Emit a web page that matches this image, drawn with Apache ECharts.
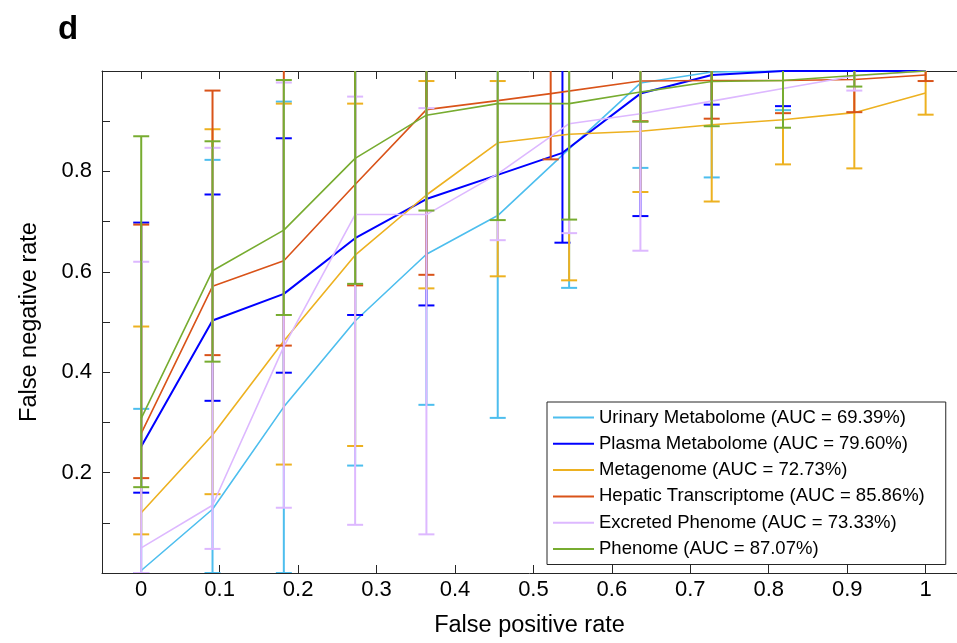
<!DOCTYPE html>
<html>
<head>
<meta charset="utf-8">
<script src="https://cdn.jsdelivr.net/npm/echarts@6/dist/echarts.min.js"></script>
<style>
html,body{margin:0;padding:0;background:#fff;}
#chart{width:957px;height:643px;}
</style>
</head>
<body>
<div id="chart"></div>
<script>
// ---------- data ----------
const seriesNames = [
  'Urinary Metabolome (AUC = 69.39%)',
  'Plasma Metabolome (AUC = 79.60%)',
  'Metagenome (AUC = 72.73%)',
  'Hepatic Transcriptome (AUC = 85.86%)',
  'Excreted Phenome (AUC = 73.33%)',
  'Phenome (AUC = 87.07%)'
];
const seriesColors = ['#4DBEEE', '#0000FF', '#EDB120', '#D95319', '#DDB8FF', '#77AC30'];

const xTicks = [0, 0.1, 0.2, 0.3, 0.4, 0.5, 0.6, 0.7, 0.8, 0.9, 1];
const yTicks = [0, 0.1, 0.2, 0.3, 0.4, 0.5, 0.6, 0.7, 0.8, 0.9, 1];
const yTickLabels = [0.2, 0.4, 0.6, 0.8];

const fprBase    = [0, 0.0909, 0.1818, 0.2727, 0.3636, 0.4545, 0.5455, 0.6364, 0.7273, 0.8182, 0.9091, 1];
const fprPlasma  = [0, 0.0909, 0.1818, 0.2727, 0.3636, 0.4545, 0.537,  0.6364, 0.7273, 0.8182, 0.9091, 1];
const fprHepatic = [0, 0.0909, 0.1818, 0.2727, 0.3636, 0.4545, 0.522,  0.6364, 0.7273, 0.8182, 0.9091, 1];

// mean false negative rate, lower and upper error bar ends (values >1 run off the axes)
const urinary     = [0.005, 0.127, 0.331, 0.502, 0.635, 0.712, 0.845, 0.976, 0.998, 1, 1, 1];
const urinaryLow  = [0, 0, 0, 0.214, 0.335, 0.309, 0.568, 0.807, 0.788, 0.922, null, null];
const urinaryHigh = [0.327, 0.823, 0.939, 1.1, 1.1, 1.1, 1.1, 1.1, 1.1, 1.1, null, null];

const plasma     = [0.252, 0.503, 0.556, 0.667, 0.745, 0.793, 0.837, 0.955, 0.992, 1, 1, 1];
const plasmaLow  = [0.160, 0.343, 0.399, 0.514, 0.533, null, 0.658, 0.711, 0.933, 0.930, null, null];
const plasmaHigh = [0.698, 0.754, 0.866, 1.1, 1.1, null, 1.1, 1.1, 1.1, 1.1, null, null];

const metagenome     = [0.120, 0.275, 0.462, 0.633, 0.753, 0.857, 0.874, 0.880, 0.893, 0.903, 0.917, 0.956];
const metagenomeLow  = [0.077, 0.157, 0.216, 0.253, 0.567, 0.591, 0.583, 0.759, 0.740, 0.814, 0.806, 0.913];
const metagenomeHigh = [0.491, 0.884, 0.935, 0.935, 0.980, 0.980, 1.1, 1.1, 1.1, 1.1, 1.1, 1.1];

const hepatic     = [0.278, 0.571, 0.622, 0.774, 0.923, 0.941, 0.955, 0.980, 0.981, 0.981, 0.983, 0.992];
const hepaticLow  = [0.189, 0.434, 0.453, 0.573, 0.594, null, 0.824, 0.900, 0.905, 0.916, 0.918, 0.980];
const hepaticHigh = [0.694, 0.961, 1.1, 1.1, 1.1, null, 1.1, 1.1, 1.1, 1.1, 1.1, 1.1];

const excreted     = [0.050, 0.135, 0.451, 0.714, 0.714, 0.795, 0.895, 0.915, 0.940, 0.965, 0.990, 1];
const excretedLow  = [0, 0.048, 0.130, 0.096, 0.077, 0.663, 0.677, 0.642, null, null, 0.961, null];
const excretedHigh = [0.620, 0.847, 0.977, 0.949, 0.926, 1.1, 1.1, 1.1, null, null, 1.1, null];

const phenome     = [0.308, 0.602, 0.683, 0.826, 0.912, 0.935, 0.935, 0.958, 0.979, 0.981, 0.991, 1];
const phenomeLow  = [0.171, 0.421, 0.514, 0.576, 0.722, 0.703, 0.704, 0.899, 0.890, 0.887, 0.969, null];
const phenomeHigh = [0.870, 0.860, 0.982, 1.1, 1.1, 1.1, 1.1, 1.1, 1.1, 1.1, 1.1, null];

const groups = [
  [fprBase, urinary, urinaryLow, urinaryHigh],
  [fprPlasma, plasma, plasmaLow, plasmaHigh],
  [fprBase, metagenome, metagenomeLow, metagenomeHigh],
  [fprHepatic, hepatic, hepaticLow, hepaticHigh],
  [fprBase, excreted, excretedLow, excretedHigh],
  [fprBase, phenome, phenomeLow, phenomeHigh]
];

// ---------- chart ----------
const FONT = '"Liberation Sans", Arial, sans-serif';
const axisColor = '#262626';
const chart = echarts.init(document.getElementById('chart'), null, {renderer: 'canvas'});

function errRenderer(color) {
  return function (params, api) {
    const x = api.value(0), lo = api.value(1), hi = api.value(2);
    const clamp = v => Math.max(0, Math.min(1, v));
    const pLo = api.coord([x, clamp(lo)]);
    const pHi = api.coord([x, clamp(hi)]);
    const st = {stroke: color, lineWidth: 2};
    const children = [{type: 'line', shape: {x1: pLo[0], y1: pLo[1], x2: pHi[0], y2: pHi[1]}, style: st}];
    const half = 8;
    if (lo >= 0 && lo <= 1) children.push({type: 'line', shape: {x1: pLo[0] - half, y1: pLo[1], x2: pLo[0] + half, y2: pLo[1]}, style: st});
    if (hi >= 0 && hi <= 1) children.push({type: 'line', shape: {x1: pHi[0] - half, y1: pHi[1], x2: pHi[0] + half, y2: pHi[1]}, style: st});
    return {type: 'group', children: children};
  };
}

const series = [];
groups.forEach((g, i) => {
  const [xs, ys, lows, highs] = g;
  series.push({
    type: 'line', name: seriesNames[i],
    data: xs.map((x, k) => [x, ys[k]]),
    symbol: 'none', clip: true,
    lineStyle: {color: seriesColors[i], width: i === 1 ? 2 : 1.6},
    itemStyle: {color: seriesColors[i]},
    z: 2 + i * 2, animation: false
  });
  const eb = [];
  xs.forEach((x, k) => { if (lows[k] !== null && highs[k] !== null) eb.push([x, lows[k], highs[k]]); });
  series.push({
    type: 'custom', name: 'eb' + i,
    renderItem: errRenderer(seriesColors[i]),
    data: eb, encode: {x: 0, y: [1, 2]}, clip: true,
    z: 3 + i * 2, animation: false, silent: true
  });
});

const xMin = -0.05, xMax = 1.04;
const axisBase = {
  min: xMin, max: xMax, type: 'value',
  axisLine: {show: true, onZero: false, lineStyle: {color: axisColor, width: 1}},
  splitLine: {show: false}
};

chart.setOption({
  animation: false,
  backgroundColor: '#ffffff',
  title: {text: 'd', left: 53, top: 8, textStyle: {fontFamily: FONT, fontSize: 33, fontWeight: 'bold', color: '#000'}},
  grid: {left: 102, right: 0, top: 71, bottom: 66, containLabel: false},
  xAxis: [
    Object.assign({}, axisBase, {
      position: 'bottom', name: 'False positive rate', nameLocation: 'middle', nameGap: 41,
      nameTextStyle: {fontFamily: FONT, fontSize: 23.5, color: '#000'},
      axisTick: {show: true, inside: true, length: 8, customValues: xTicks, lineStyle: {color: axisColor}},
      axisLabel: {show: true, customValues: xTicks, margin: 6, fontFamily: FONT, fontSize: 22, color: '#000',
        formatter: v => String(Math.round(v * 10) / 10)}
    }),
    Object.assign({}, axisBase, {
      position: 'top',
      axisTick: {show: true, inside: true, length: 8, customValues: xTicks, lineStyle: {color: axisColor}},
      axisLabel: {show: false}
    })
  ],
  yAxis: [
    {
      type: 'value', min: 0, max: 1, position: 'left',
      name: 'False negative rate', nameLocation: 'middle', nameGap: 60, nameRotate: 90,
      nameTextStyle: {fontFamily: FONT, fontSize: 23.5, color: '#000'},
      axisLine: {show: true, onZero: false, lineStyle: {color: axisColor}},
      axisTick: {show: true, inside: true, length: 8, customValues: yTicks, lineStyle: {color: axisColor}},
      axisLabel: {show: true, customValues: yTickLabels, margin: 10, fontFamily: FONT, fontSize: 22, color: '#000',
        formatter: v => String(Math.round(v * 10) / 10)},
      splitLine: {show: false}
    },
    {
      type: 'value', min: 0, max: 1, position: 'right',
      axisLine: {show: false, onZero: false, lineStyle: {color: axisColor}},
      axisTick: {show: false},
      axisLabel: {show: false},
      splitLine: {show: false}
    }
  ],
  legend: {
    data: seriesNames.map((n, i) => ({name: n, icon: 'rect', itemStyle: {color: seriesColors[i]}})),
    orient: 'vertical', left: 547, top: 402,
    itemWidth: 41, itemHeight: 2, itemGap: 7.3,
    padding: [6, 21, 6, 6],
    borderColor: '#262626', borderWidth: 1, backgroundColor: '#fff',
    textStyle: {fontFamily: FONT, fontSize: 18.5, color: '#000', lineHeight: 19},
    selectedMode: false
  },
  series: series
});
</script>
</body>
</html>
